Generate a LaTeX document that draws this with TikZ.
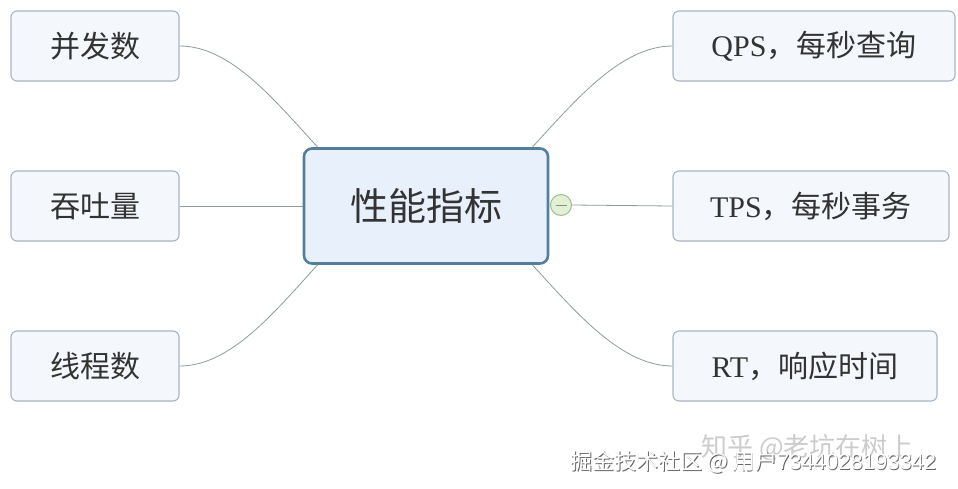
\documentclass[tikz,border=0pt]{standalone}
\usepackage{fontspec}
\setmainfont{Liberation Serif}
\newfontfamily\cjk{Noto Sans CJK SC}
\newfontfamily\wmlatin{Liberation Sans}
\usetikzlibrary{calc}
\definecolor{boxfill}{HTML}{F4F7FC}
\definecolor{boxline}{HTML}{A7B6C4}
\definecolor{ctrfill}{HTML}{E8F0FB}
\definecolor{ctrline}{HTML}{537F9C}
\definecolor{conn}{HTML}{8E9C9E}
\definecolor{txt}{HTML}{333333}
\definecolor{knobfill}{HTML}{E2F0D6}
\definecolor{knobline}{HTML}{9CC08C}
\begin{document}
\begin{tikzpicture}[x=1pt,y=-1pt,
  leaf/.style={draw=boxline,fill=boxfill,line width=1.1pt,rounded corners=6pt,
    minimum height=70pt,inner sep=0pt,text=txt,font=\fontsize{30}{32}\selectfont},
  hub/.style={draw=ctrline,fill=ctrfill,line width=2.6pt,rounded corners=8pt,
    minimum width=244pt,minimum height=115pt,inner sep=0pt,text=txt,
    font=\cjk\fontsize{38}{42}\selectfont},
  link/.style={draw=conn,line width=0.8pt},
  knob/.style={circle,draw=knobline,fill=knobfill,line width=1pt,minimum size=21pt,inner sep=0pt},
  wmark/.style={font=\cjk\fontsize{22}{24}\selectfont,anchor=west}
]
\useasboundingbox[fill=white] (0,0) rectangle (958,488);
% center
\node[hub] (c) at (426,206) {性能指标};
% left leaves
\node[leaf,minimum width=168pt] (l1) at (95,46) {\cjk 并发数};
\node[leaf,minimum width=168pt] (l2) at (95,206) {\cjk 吞吐量};
\node[leaf,minimum width=168pt] (l3) at (95,366) {\cjk 线程数};
% right leaves
\node[leaf,minimum width=282pt] (r1) at (814,46) {QPS{\cjk ，每秒查询}};
\node[leaf,minimum width=276pt] (r2) at (811,206) {TPS{\cjk ，每秒事务}};
\node[leaf,minimum width=264pt] (r3) at (805,366) {RT{\cjk ，响应时间}};
% collapse knob
\node[knob] (k) at (561,205) {};
\draw[draw=knobline!80!black,line width=1pt] ($(k.center)+(-5.5,0)$) -- ($(k.center)+(5.5,0)$);
% anchor points on the hub
\coordinate (ctl) at ($(c.north west)+(15,0)$);
\coordinate (ctr) at ($(c.north east)+(-17,0)$);
\coordinate (cbl) at ($(c.south west)+(15,0)$);
\coordinate (cbr) at ($(c.south east)+(-17,0)$);
% connectors
\draw[link] (l1.east) .. controls ++(51,0) and ($(ctl)+(-44,-48)$) .. (ctl);
\draw[link] (l2.east) -- (c.west);
\draw[link] (l3.east) .. controls ++(51,0) and ($(cbl)+(-44,48)$) .. (cbl);
\draw[link] (r1.west) .. controls ++(-51,0) and ($(ctr)+(44,-48)$) .. (ctr);
\draw[link] (k.east) -- (r2.west);
\draw[link] (r3.west) .. controls ++(-51,0) and ($(cbr)+(44,48)$) .. (cbr);
% watermarks
\node[text=black!20,font=\cjk\fontsize{26}{28}\selectfont,anchor=west] (w1) at (698,448) {知乎 @老坑在树上};
\node[wmark,text=black!60] (w2s) at (567.8,462.8) {掘金技术社区 @ 用户{\wmlatin 7344028193342}};
\node[wmark,text=white] (w2) at (567,462) {掘金技术社区 @ 用户{\wmlatin 7344028193342}};
\end{tikzpicture}
\end{document}
